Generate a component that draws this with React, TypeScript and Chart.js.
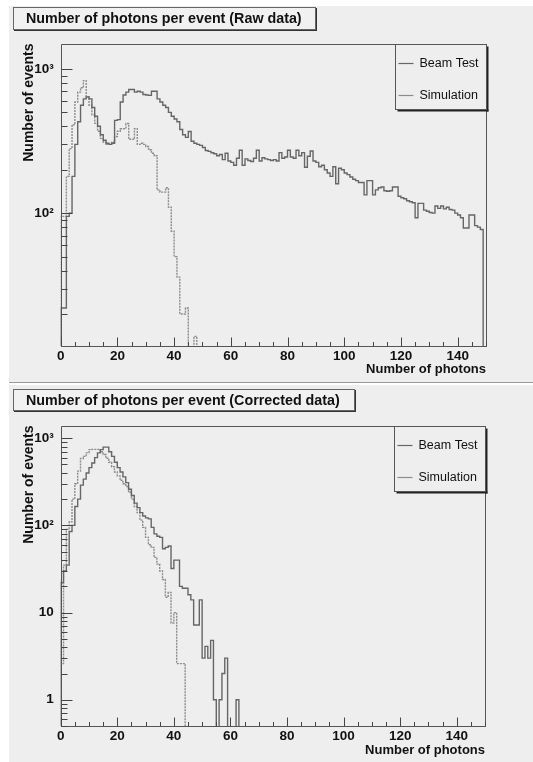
import React, { useEffect, useRef } from 'react';
import { Chart, registerables } from 'chart.js';

Chart.register(...registerables);

// ---------------- data ----------------
const BIN_WIDTH = 1; // photons per bin
const X_TICKS = [0, 20, 40, 60, 80, 100, 120, 140];
const LEGEND_LABELS = ['Beam Test', 'Simulation'];
const X_TITLE = 'Number of photons';
const Y_TITLE = 'Number of events';
const TOP_TITLE = 'Number of photons per event (Raw data)';
const BOTTOM_TITLE = 'Number of photons per event (Corrected data)';

const TOP_Y_TICKS = [100, 1000];
const TOP_Y_LABELS = ['10²', '10³'];
const BOTTOM_Y_TICKS = [1, 10, 100, 1000];
const BOTTOM_Y_LABELS = ['1', '10', '10²', '10³'];

// raw data, beam test (bins 0..149)
const TOP_BEAM = [
  22, 22, 22, 95, 100, 180, 300, 430, 560, 620,
  640, 620, 540, 470, 400, 350, 320, 305, 300, 305,
  440, 445, 590, 660, 690, 720, 720, 690, 700, 690,
  665, 660, 655, 700, 700, 620, 590, 560, 540, 500,
  470, 450, 430, 380, 350, 335, 368, 315, 305, 300,
  295, 285, 272, 268, 262, 258, 250, 255, 235, 260,
  230, 225, 215, 240, 273, 215, 238, 232, 228, 240,
  273, 230, 242, 238, 235, 232, 235, 230, 263, 240,
  245, 273, 245, 240, 273, 250, 263, 208, 248, 270,
  230, 225, 210, 215, 200, 190, 180, 210, 160, 205,
  200, 190, 185, 178, 172, 168, 163, 163, 134, 168,
  168, 134, 145, 150, 152, 143, 142, 143, 152, 152,
  131, 128, 126, 122, 120, 118, 93, 117, 117, 105,
  103, 101, 100, 112, 108, 112, 107, 110, 106, 105,
  100, 97, 93, 79, 79, 97, 97, 82, 80, 77,
];

// raw data, simulation (bins 0..49)
const TOP_SIM = [
  20, 95, 95, 180, 280, 410, 590, 690, 740, 830,
  640, 560, 480, 420, 370, 330, 310, 300, 300, 310,
  340, 370, 385, 385, 418, 325, 325, 385, 300, 305,
  300, 290, 275, 260, 250, 145, 140, 140, 150, 110,
  75, 50, 36, 20, 20, 22, 0, 0, 14, 0,
];

// corrected data, beam test (bins 0..64)
const BOTTOM_BEAM = [
  18, 22, 30, 35, 85, 100, 165, 200, 290, 340,
  400, 460, 520, 600, 680, 740, 790, 790, 700, 620,
  530, 460, 410, 360, 310, 260, 220, 180, 160, 140,
  128, 122, 119, 95, 80, 75, 73, 54, 56, 58,
  32, 40, 40, 20, 19, 19, 16, 14, 7.2, 7.2,
  14, 3, 4.1, 3, 4.8, 1, 0, 1, 2, 3,
  0, 0, 0, 1, 0,
];

// corrected data, simulation (bins 0..44)
const BOTTOM_SIM = [
  24, 2.6, 35, 90, 110, 200, 300, 420, 585, 620,
  680, 740, 745, 745, 745, 700, 650, 590, 530, 470,
  410, 370, 330, 300, 280, 240, 200, 165, 140, 115,
  95, 73, 60, 56, 43, 36, 30, 24, 15, 17,
  7.6, 10, 2.6, 2.6, 2.6,
];

// ---------------- style ----------------
const FONT = "'Liberation Sans', Arial, Helvetica, sans-serif";
const BG = '#eeeeee';
const BEAM_COLOR = '#666666';
const SIM_COLOR = '#8c8c8c';
const FLOOR = 1e-4; // empty bins fall below the frame

function histPoints(values: number[]) {
  const pts: { x: number; y: number }[] = [{ x: 0, y: FLOOR }];
  values.forEach((v, i) => pts.push({ x: i * BIN_WIDTH, y: v > 0 ? v : FLOOR }));
  pts.push({ x: values.length * BIN_WIDTH, y: FLOOR });
  return pts;
}

const rootPlugin = {
  id: 'rootFrame',
  afterDatasetsDraw(chart: any) {
    const { ctx, chartArea: a, scales } = chart;
    const x = scales.x;
    const y = scales.y;
    ctx.save();
    // frame
    ctx.strokeStyle = '#555';
    ctx.lineWidth = 1;
    const L = Math.round(a.left) + 0.5;
    const R = Math.round(a.right) + 0.5;
    const T = Math.round(a.top) + 0.5;
    const B = Math.round(a.bottom) + 0.5;
    ctx.beginPath();
    ctx.moveTo(L, T); ctx.lineTo(R, T); ctx.lineTo(R, B); ctx.lineTo(L, B); ctx.closePath();
    ctx.stroke();
    // x ticks (inside)
    ctx.strokeStyle = '#444';
    ctx.beginPath();
    for (let v = x.min; v <= x.max + 1e-9; v += 5) {
      const px = Math.round(x.getPixelForValue(v)) + 0.5;
      const len = v % 20 === 0 ? 9 : 4.5;
      ctx.moveTo(px, B);
      ctx.lineTo(px, B - len);
    }
    // y ticks (log, inside)
    const d0 = Math.floor(Math.log10(y.min));
    const d1 = Math.ceil(Math.log10(y.max));
    for (let d = d0; d <= d1; d++) {
      for (let m = 1; m <= 9; m++) {
        const v = m * Math.pow(10, d);
        if (v < y.min || v > y.max) continue;
        const py = Math.round(y.getPixelForValue(v)) + 0.5;
        const len = m === 1 ? 11 : 6;
        ctx.moveTo(L, py);
        ctx.lineTo(L + len, py);
      }
    }
    ctx.stroke();

    // legend box (top right of frame)
    const w = 91;
    const h = 65;
    const lx = Math.round(a.right - w) + 0.5;
    const ly = Math.round(a.top) + 0.5;
    ctx.fillStyle = '#222';
    ctx.fillRect(lx + 2, ly + h, w, 2);
    ctx.fillRect(lx + w, ly + 2, 2, h);
    ctx.fillStyle = BG;
    ctx.fillRect(lx, ly, w, h);
    ctx.strokeStyle = '#555';
    ctx.strokeRect(lx, ly, w, h);
    const rows = [0.285, 0.77];
    chart.data.datasets.forEach((ds: any, i: number) => {
      const yy = Math.round(ly + h * rows[i]) + 0.5;
      ctx.strokeStyle = ds.borderColor;
      ctx.lineWidth = 1.2;
      ctx.setLineDash([]);
      ctx.beginPath();
      ctx.moveTo(lx + 3, yy);
      ctx.lineTo(lx + 18, yy);
      ctx.stroke();
      ctx.fillStyle = '#111';
      ctx.font = `12.5px ${FONT}`;
      ctx.textBaseline = 'middle';
      ctx.textAlign = 'left';
      ctx.fillText(ds.label, lx + 24, yy);
    });
    ctx.restore();
  },
};

type PanelProps = {
  beam: number[];
  sim: number[];
  yMin: number;
  yMax: number;
  yTicks: number[];
  yLabels: string[];
  w: number;
  h: number;
  areaTop: number;
  areaRight: number;
  areaLeft: number;
  xAxisH: number;
  xTitlePad: number;
};

function HistPanel(p: PanelProps) {
  const ref = useRef<HTMLCanvasElement>(null);
  useEffect(() => {
    if (!ref.current) return;
    const tickFont = { family: FONT, size: 13.5, weight: 'bold' as const };
    const chart = new Chart(ref.current, {
      type: 'line',
      data: {
        datasets: [
          {
            label: LEGEND_LABELS[0],
            data: histPoints(p.beam),
            borderColor: BEAM_COLOR,
            borderWidth: 1.4,
            stepped: 'after',
            pointRadius: 0,
            fill: false,
          },
          {
            label: LEGEND_LABELS[1],
            data: histPoints(p.sim),
            borderColor: SIM_COLOR,
            borderWidth: 1.4,
            borderDash: [2, 1],
            stepped: 'after',
            pointRadius: 0,
            fill: false,
          },
        ],
      },
      options: {
        responsive: false,
        animation: false,
        devicePixelRatio: 1,
        parsing: false as any,
        layout: { padding: { left: 0, right: p.w - p.areaRight, top: p.areaTop, bottom: 0 } },
        plugins: { legend: { display: false }, tooltip: { enabled: false }, title: { display: false } },
        scales: {
          x: {
            type: 'linear',
            min: 0,
            max: 150,
            afterBuildTicks: (s: any) => { s.ticks = X_TICKS.map((v) => ({ value: v })); },
            afterFit: (s: any) => { s.height = p.xAxisH; },
            ticks: { font: tickFont, color: '#111', padding: 2, maxRotation: 0, autoSkip: false },
            grid: { display: false, drawTicks: false },
            border: { display: false },
            title: {
              display: true,
              text: X_TITLE,
              align: 'end',
              color: '#111',
              font: { family: FONT, size: 13, weight: 'bold' },
              padding: { top: 0, bottom: p.xTitlePad },
            },
          },
          y: {
            type: 'logarithmic',
            min: p.yMin,
            max: p.yMax,
            afterBuildTicks: (s: any) => { s.ticks = p.yTicks.map((v) => ({ value: v })); },
            afterFit: (s: any) => { s.width = p.areaLeft; },
            ticks: {
              font: tickFont,
              color: '#111',
              padding: 7,
              autoSkip: false,
              callback: (_v: any, i: number) => p.yLabels[i],
            },
            grid: { display: false, drawTicks: false },
            border: { display: false },
            title: {
              display: true,
              text: Y_TITLE,
              align: 'end',
              color: '#111',
              font: { family: FONT, size: 14, weight: 'bold' },
              padding: { top: 11.6, bottom: 0 },
            },
          },
        },
      } as any,
      plugins: [rootPlugin],
    });
    return () => chart.destroy();
  }, []);
  return <canvas ref={ref} width={p.w} height={p.h} style={{ display: 'block', width: p.w, height: p.h }} />;
}

function TitleBox({ text, left, top, width, height }: { text: string; left: number; top: number; width: number; height: number }) {
  return (
    <div
      style={{
        position: 'absolute',
        left,
        top,
        width,
        height,
        boxSizing: 'border-box',
        border: '1px solid #666',
        boxShadow: '1px 1px 0 #333',
        background: '#f1f1f1',
        font: `bold 14.3px ${FONT}`,
        color: '#111',
        lineHeight: `${height - 2}px`,
        paddingLeft: 12,
        whiteSpace: 'nowrap',
      }}
    >
      {text}
    </div>
  );
}

export default function App() {
  return (
    <div style={{ position: 'absolute', left: 0, top: 0, width: 533, height: 762, background: '#fff', overflow: 'hidden' }}>
      <div style={{ position: 'absolute', left: 9, top: 6, width: 524, height: 376, background: BG }}>
        <HistPanel
          beam={TOP_BEAM}
          sim={TOP_SIM}
          yMin={12}
          yMax={1500}
          yTicks={TOP_Y_TICKS}
          yLabels={TOP_Y_LABELS}
          w={524}
          h={376}
          areaTop={37.5}
          areaRight={477}
          areaLeft={51.7}
          xAxisH={36}
          xTitlePad={5.2}
        />
      </div>
      <div style={{ position: 'absolute', left: 9, top: 382, width: 524, height: 1, background: '#999' }} />
      <div style={{ position: 'absolute', left: 9, top: 385, width: 524, height: 377, background: BG }}>
        <HistPanel
          beam={BOTTOM_BEAM}
          sim={BOTTOM_SIM}
          yMin={0.5}
          yMax={1400}
          yTicks={BOTTOM_Y_TICKS}
          yLabels={BOTTOM_Y_LABELS}
          w={524}
          h={377}
          areaTop={40.5}
          areaRight={476}
          areaLeft={51.7}
          xAxisH={36}
          xTitlePad={4.2}
        />
      </div>
      <TitleBox text={TOP_TITLE} left={13} top={7} width={303} height={23} />
      <TitleBox text={BOTTOM_TITLE} left={13} top={389} width={342} height={22} />
    </div>
  );
}
